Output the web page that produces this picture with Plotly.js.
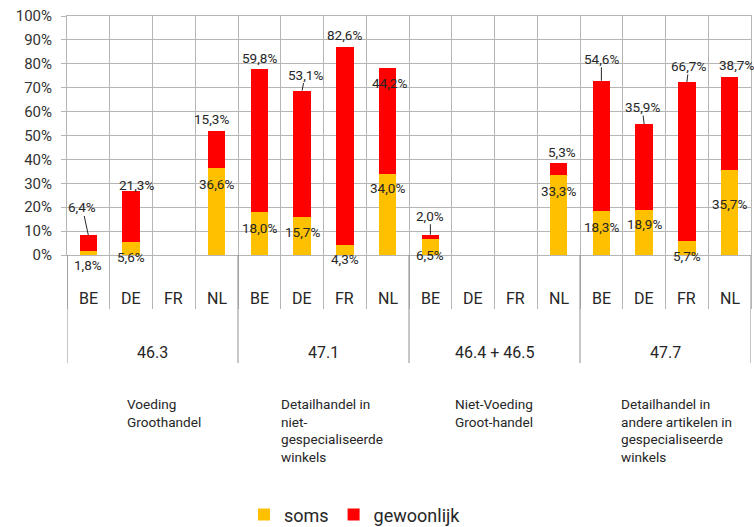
<!DOCTYPE html>
<html>
<head>
<meta charset="utf-8">
<script src="https://cdn.plot.ly/plotly-3.0.1.min.js"></script>
<style>
  html, body { margin: 0; padding: 0; background: #ffffff; }
  #chart { width: 754px; height: 527px; }
</style>
</head>
<body>
<div id="chart"></div>
<script>
// ---- data ----
const groups = ['46.3', '47.1', '46.4 + 46.5', '47.7'];
const countries = ['BE', 'DE', 'FR', 'NL'];
const groupDescriptions = [
  'Voeding<br>Groothandel',
  'Detailhandel in<br>niet-<br>gespecialiseerde<br>winkels',
  'Niet-Voeding<br>Groot-handel',
  'Detailhandel in<br>andere artikelen in<br>gespecialiseerde<br>winkels'
];
const seriesNames = ['soms', 'gewoonlijk'];
const soms =       [1.8, 5.6, null, 36.6,  18.0, 15.7, 4.3, 34.0,  6.5, null, null, 33.3,  18.3, 18.9, 5.7, 35.7];
const gewoonlijk = [6.4, 21.3, null, 15.3, 59.8, 53.1, 82.6, 44.2, 2.0, null, null, 5.3,   54.6, 35.9, 66.7, 38.7];

// ---- label placement (pixel offsets, layout only) ----
const topLabelDx  = [-6, 5, 0, -5,   0, 3, 0, 2,    0, 0, 0, 3,   0, -2, 2, 7];
const topLabelDy  = [28, 6, 0, 12,   11, 16, 12, -15, 19, 0, 0, 11, 22, 17, 16, 12];
const topLeader   = [1, 0, 0, 0,     0, 1, 0, 0,    1, 0, 0, 0,   1, 1, 1, 0];
const somsLabelDy = [-14, -15, 0, -16, -16, -15, -14, -14, -16, 0, 0, -16, -16, -14, -15, -34];
const descOffset  = [1.36, 0.95, 1.02, 0.92];

// ---- styles ----
const colSoms = '#FFC000';
const colGew = '#FF0000';
const gridCol = '#b5b5b5';
const sepCol = '#8f8f8f';
const txtCol = '#262626';
const FONT = 'Roboto, "Open Sans", Arial, sans-serif';

// category positions
const xs = [];
const countryOf = [];
groups.forEach((g, gi) => countries.forEach((c, ci) => { xs.push(gi * countries.length + ci); countryOf.push(c); }));

const fmt = v => v.toFixed(1).replace('.', ',') + '%';

const traces = [
  { type: 'bar', name: seriesNames[0], x: xs, y: soms, marker: { color: colSoms, line: { width: 0 } }, hoverinfo: 'skip' },
  { type: 'bar', name: seriesNames[1], x: xs, y: gewoonlijk, marker: { color: colGew, line: { width: 0 } }, hoverinfo: 'skip' }
];

const annotations = [];
xs.forEach((x, i) => {
  if (soms[i] == null || gewoonlijk[i] == null) return;
  const total = soms[i] + gewoonlijk[i];
  if (topLeader[i]) {
    annotations.push({
      x: x, y: total, xref: 'x', yref: 'y', text: fmt(gewoonlijk[i]),
      showarrow: true, arrowhead: 0, arrowwidth: 1, arrowcolor: '#262626', standoff: 0, startstandoff: 0,
      ax: topLabelDx[i], ay: -topLabelDy[i], borderpad: 0,
      font: { family: FONT, size: 13.5, color: txtCol }
    });
  } else {
    annotations.push({
      x: x, y: total, xref: 'x', yref: 'y', text: fmt(gewoonlijk[i]),
      showarrow: false, xshift: topLabelDx[i], yshift: topLabelDy[i], yanchor: 'middle',
      font: { family: FONT, size: 13.5, color: txtCol }
    });
  }
  annotations.push({
    x: x, y: soms[i], xref: 'x', yref: 'y', text: fmt(soms[i]),
    showarrow: false, yshift: somsLabelDy[i], yanchor: 'middle',
    font: { family: FONT, size: 13.5, color: txtCol }
  });
});

// country labels
xs.forEach((x, i) => {
  annotations.push({
    x: x, y: -0.184, xref: 'x', yref: 'paper', text: countryOf[i], showarrow: false,
    yanchor: 'middle', font: { family: FONT, size: 16, color: txtCol }
  });
});
// group labels and descriptions
groups.forEach((g, gi) => {
  annotations.push({
    x: gi * countries.length + (countries.length - 1) / 2, y: -0.41, xref: 'x', yref: 'paper',
    text: g, showarrow: false, yanchor: 'middle', font: { family: FONT, size: 16, color: txtCol }
  });
  annotations.push({
    x: gi * countries.length - 0.5 + descOffset[gi], y: -0.58, xref: 'x', yref: 'paper',
    text: groupDescriptions[gi], showarrow: false, xanchor: 'left', yanchor: 'top', align: 'left',
    font: { family: FONT, size: 13.6, color: txtCol }
  });
});

// group separators extending below axis
const shapes = [];
for (let gi = 0; gi <= groups.length; gi++) {
  shapes.push({
    type: 'line', xref: 'x', yref: 'paper', x0: gi * countries.length - 0.5, x1: gi * countries.length - 0.5,
    y0: 0, y1: -0.452, line: { color: sepCol, width: 1 }
  });
}

const layout = {
  width: 754, height: 527,
  margin: { l: 67, r: 3, t: 16, b: 272, autoexpand: false },
  paper_bgcolor: '#ffffff', plot_bgcolor: '#ffffff',
  barmode: 'stack', bargap: 0.595,
  font: { family: FONT, color: txtCol },
  showlegend: true,
  legend: {
    orientation: 'h', x: 0.421, xanchor: 'center', y: -1.087, yanchor: 'middle',
    traceorder: 'normal', font: { family: FONT, size: 18, color: txtCol }, itemwidth: 30
  },
  xaxis: {
    type: 'linear', range: [-0.5, xs.length - 0.5], tick0: -0.5, dtick: 1,
    showticklabels: false, ticks: 'outside', ticklen: 53, tickcolor: gridCol, tickwidth: 1,
    showgrid: true, gridcolor: gridCol, gridwidth: 1, zeroline: false,
    showline: true, mirror: true, linecolor: gridCol, linewidth: 1, fixedrange: true
  },
  yaxis: {
    range: [0, 100], dtick: 10, tick0: 0, ticksuffix: '%',
    ticks: 'outside', ticklen: 5, tickcolor: gridCol, ticklabelstandoff: 6,
    tickfont: { family: FONT, size: 15, color: '#333333' },
    showgrid: true, gridcolor: gridCol, gridwidth: 1, zeroline: true, zerolinecolor: gridCol, zerolinewidth: 1,
    showline: true, mirror: true, linecolor: gridCol, linewidth: 1, fixedrange: true
  },
  annotations: annotations,
  shapes: shapes
};

Plotly.newPlot('chart', traces, layout, { staticPlot: true, displayModeBar: false });
</script>
</body>
</html>
